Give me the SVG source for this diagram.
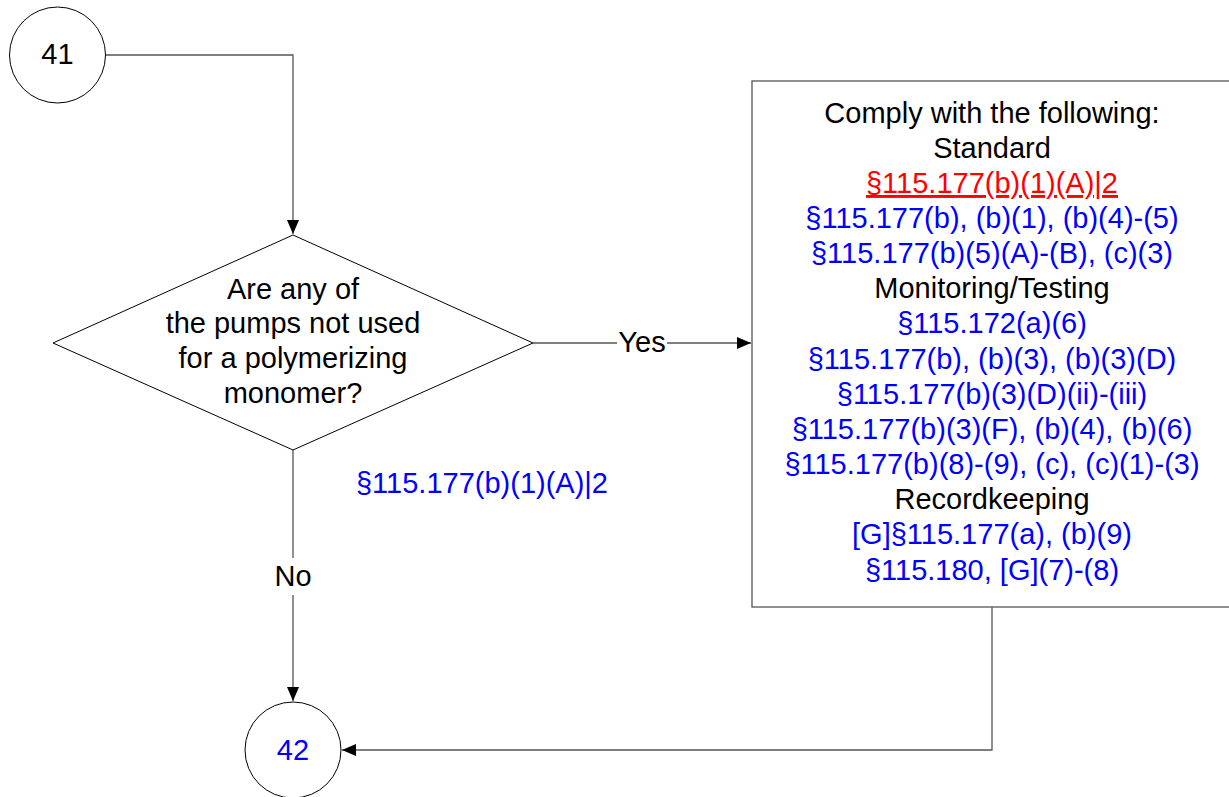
<svg xmlns="http://www.w3.org/2000/svg" width="1229" height="797" viewBox="0 0 1229 797">
<style>
text{font-family:"Liberation Sans",Arial,sans-serif;font-size:29px;text-anchor:middle}
.k{fill:#000}
.b{fill:#0000ff}
.r{fill:#ff0000;text-decoration:underline}
.shape{fill:#fff;stroke:#000;stroke-width:1}
.box{fill:#fff;stroke:#555;stroke-width:1.3}
.conn{fill:none;stroke:#555;stroke-width:1.3}
</style>
<defs>
<marker id="arr" markerWidth="14" markerHeight="12" refX="14" refY="6" orient="auto" markerUnits="userSpaceOnUse">
<path d="M0,0 L14,6 L0,12 Z" fill="#000"/>
</marker>
</defs>
<g id="connectors">
<path class="conn" d="M105,55 H293 V234" marker-end="url(#arr)"/>
<path class="conn" d="M533,343 H751" marker-end="url(#arr)"/>
<path class="conn" d="M293,450 V701" marker-end="url(#arr)"/>
<path class="conn" d="M992,607 V750 H342" marker-end="url(#arr)"/>
<rect x="617" y="328" width="50" height="28" fill="#fff"/>
<text class="k" x="642" y="352">Yes</text>
<rect x="272" y="558" width="42" height="37" fill="#fff"/>
<text class="k" x="293" y="586">No</text>
<text class="b" x="482" y="493">§115.177(b)(1)(A)|2</text>
</g>
<g id="node41">
<circle class="shape" cx="57.5" cy="55" r="48"/>
<text class="k" x="57.5" y="64">41</text>
</g>
<g id="decision">
<polygon class="shape" points="293,235 533,343 293,450 53,343"/>
<text class="k" x="293" y="299">Are any of</text>
<text class="k" x="293" y="333">the pumps not used</text>
<text class="k" x="293" y="368">for a polymerizing</text>
<text class="k" x="293" y="403">monomer?</text>
</g>
<g id="comply">
<rect class="box" x="752" y="81" width="480" height="526"/>
<text class="k" x="992" y="123">Comply with the following:</text>
<text class="k" x="992" y="158">Standard</text>
<text class="r" x="992" y="193">§115.177(b)(1)(A)|2</text>
<text class="b" x="992" y="228">§115.177(b), (b)(1), (b)(4)-(5)</text>
<text class="b" x="992" y="263">§115.177(b)(5)(A)-(B), (c)(3)</text>
<text class="k" x="992" y="298">Monitoring/Testing</text>
<text class="b" x="992" y="333">§115.172(a)(6)</text>
<text class="b" x="992" y="369">§115.177(b), (b)(3), (b)(3)(D)</text>
<text class="b" x="992" y="404">§115.177(b)(3)(D)(ii)-(iii)</text>
<text class="b" x="992" y="439">§115.177(b)(3)(F), (b)(4), (b)(6)</text>
<text class="b" x="992" y="474">§115.177(b)(8)-(9), (c), (c)(1)-(3)</text>
<text class="k" x="992" y="509">Recordkeeping</text>
<text class="b" x="992" y="544">[G]§115.177(a), (b)(9)</text>
<text class="b" x="992" y="580">§115.180, [G](7)-(8)</text>
</g>
<g id="node42">
<circle class="shape" cx="293" cy="750" r="48"/>
<text class="b" x="293" y="760">42</text>
</g>
</svg>
